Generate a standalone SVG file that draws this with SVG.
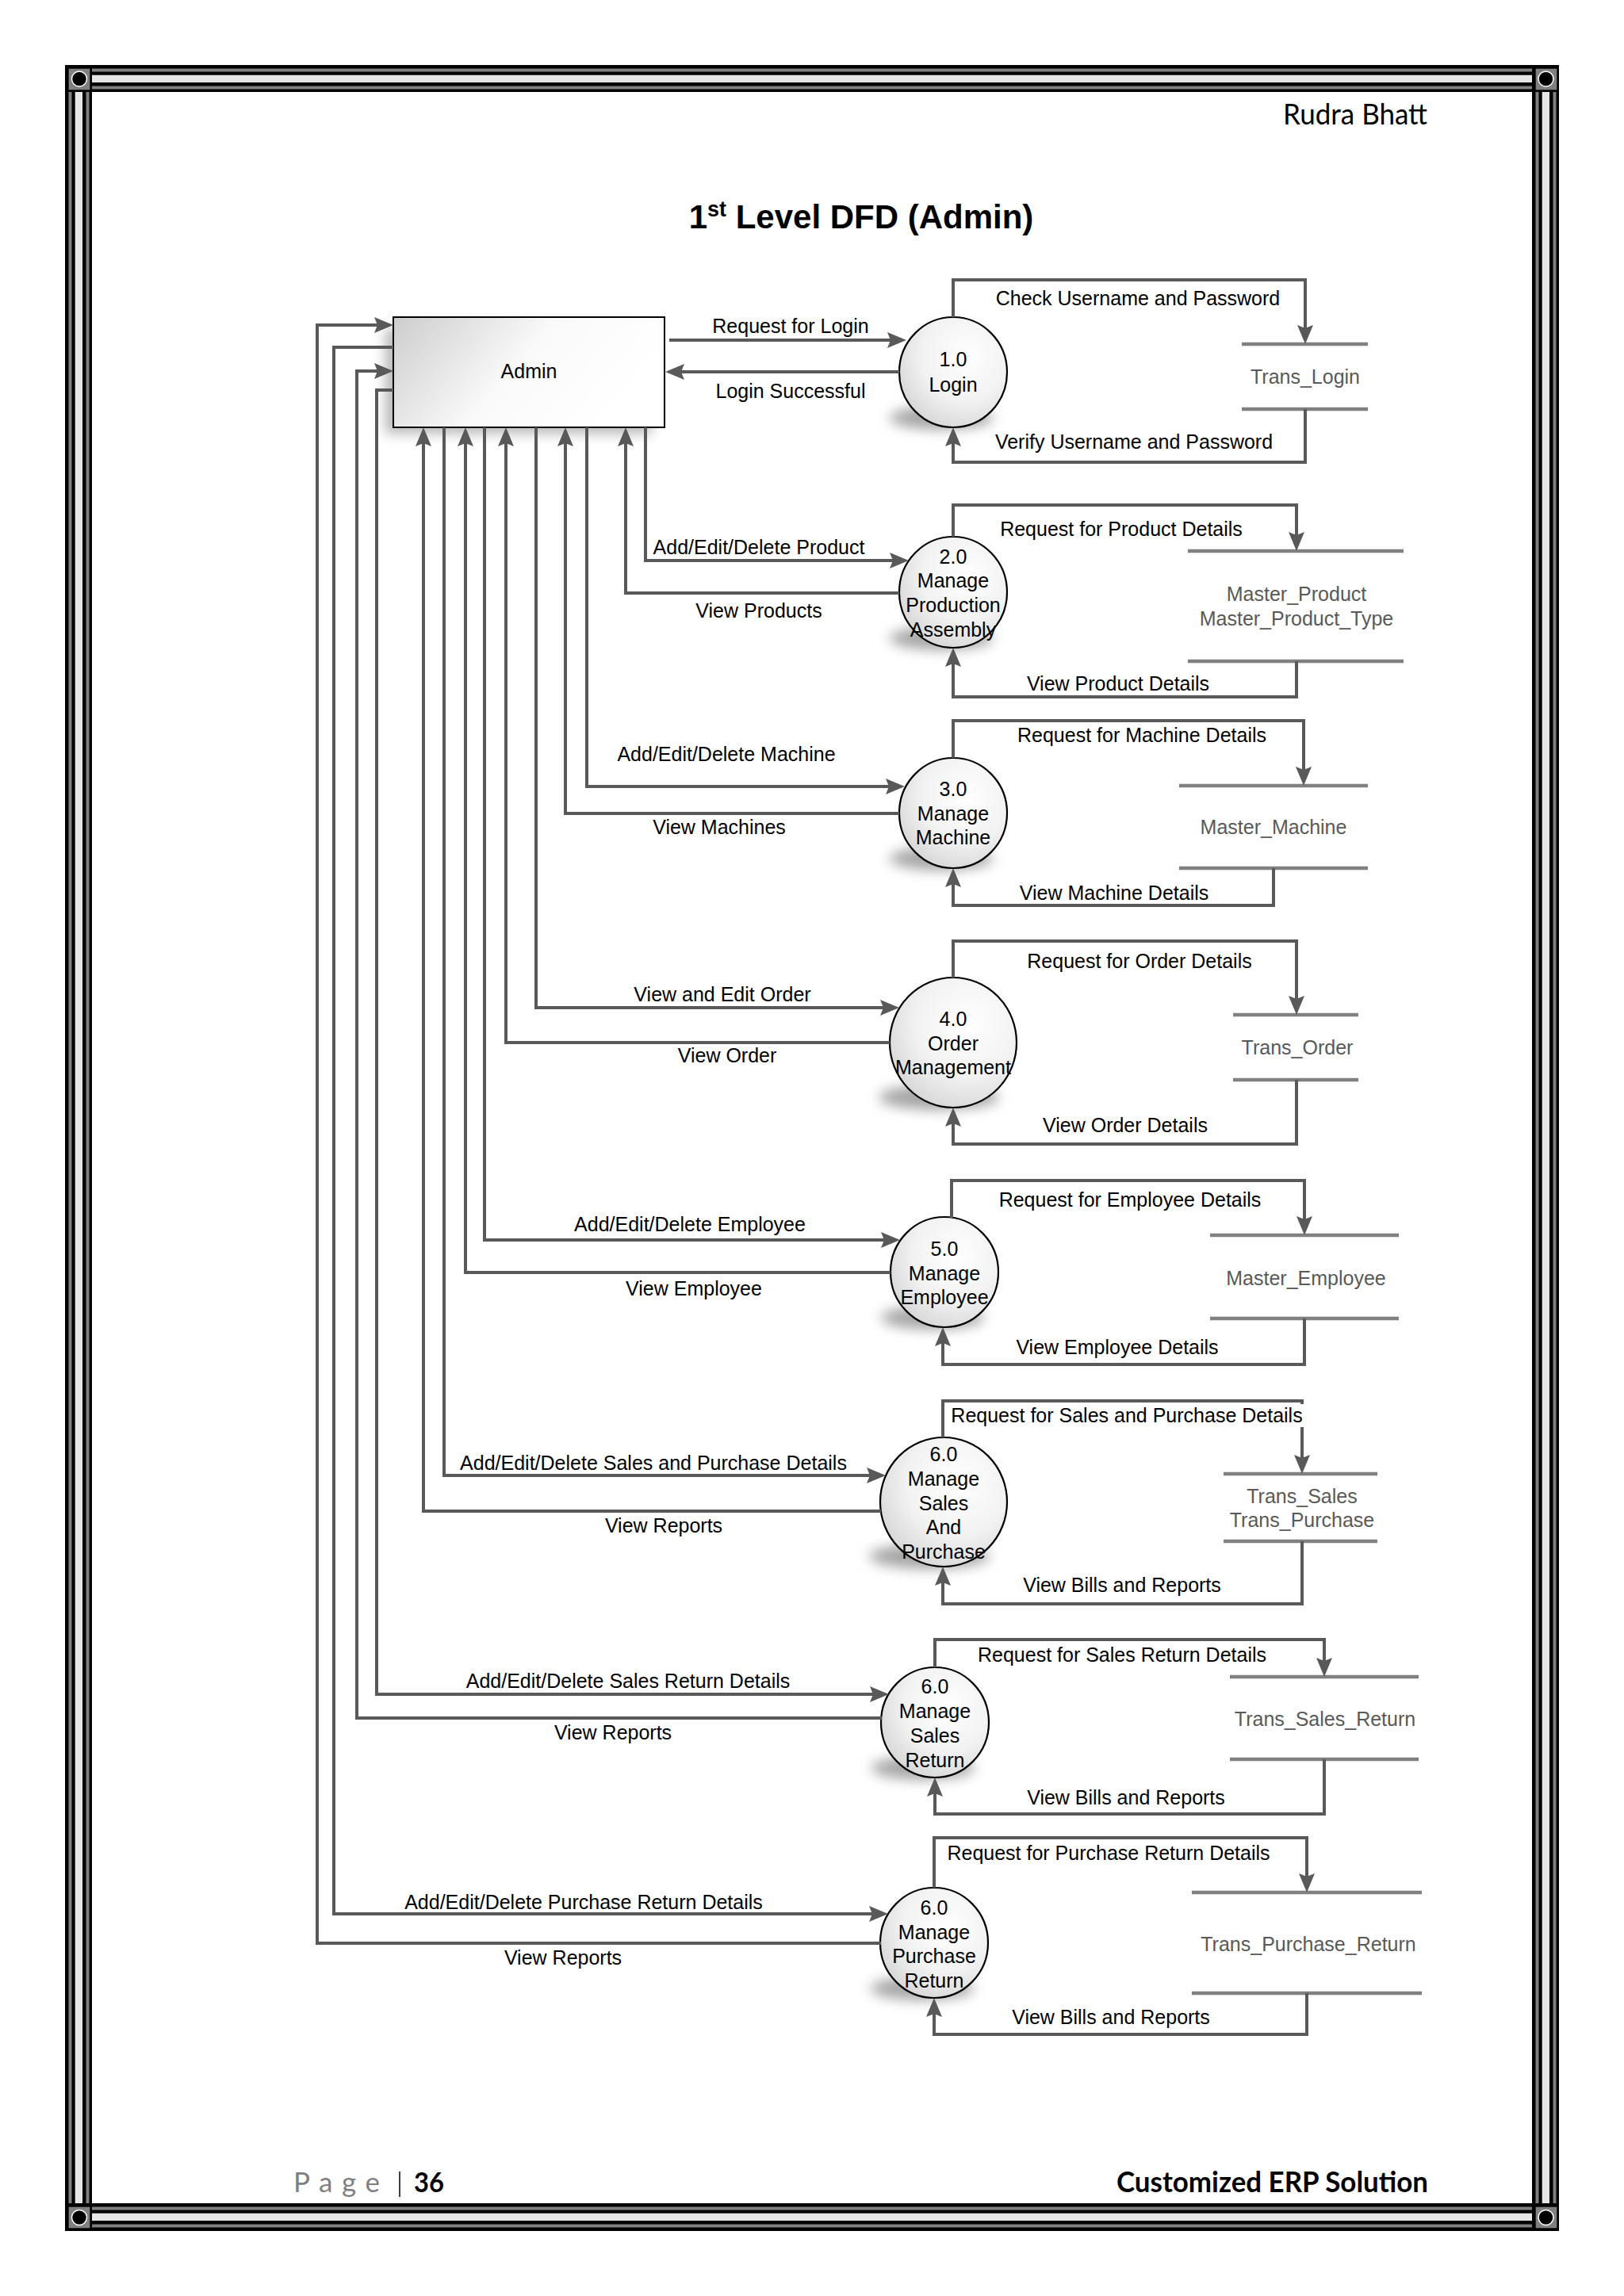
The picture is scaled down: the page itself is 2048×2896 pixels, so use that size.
<svg xmlns="http://www.w3.org/2000/svg" width="2048" height="2896" viewBox="0 0 2048 2896">
<style>
.flow{fill:none;stroke:#595959;stroke-width:4;stroke-linejoin:miter}
.arr{marker-end:url(#ah)}
.store{stroke:#808080;stroke-width:4.5}
.lbl{font-family:"Liberation Sans",Arial,sans-serif;font-size:25px;fill:#000;text-anchor:middle}
.slbl{font-family:"Liberation Sans",Arial,sans-serif;font-size:25px;fill:#595959;text-anchor:middle}
.proc{fill:url(#pg);stroke:#000;stroke-width:2.2}
.shadow{fill:#a6a6a6;filter:url(#blur)}
.cal{font-family:Lato,Carlito,"Open Sans",sans-serif}
</style>
<defs>
<marker id="ah" markerUnits="userSpaceOnUse" markerWidth="26" markerHeight="22" refX="17" refY="10" orient="auto">
<path d="M0,0 L24,10 L0,20 L4,10 z" fill="#595959"/>
</marker>
<radialGradient id="pg" cx="0.62" cy="0.35" r="0.75">
<stop offset="0" stop-color="#ffffff"/>
<stop offset="0.55" stop-color="#f2f2f2"/>
<stop offset="1" stop-color="#d2d2d2"/>
</radialGradient>
<linearGradient id="ag" x1="0" y1="0" x2="1" y2="0.35">
<stop offset="0" stop-color="#cdcdcd"/>
<stop offset="0.55" stop-color="#fafafa"/>
<stop offset="1" stop-color="#ffffff"/>
</linearGradient>
<filter id="blur" x="-30%" y="-100%" width="160%" height="300%"><feGaussianBlur stdDeviation="8"/></filter>
</defs>
<rect width="2048" height="2896" fill="#fff"/>

<g id="frame">
<rect x="82" y="82" width="1884" height="34" fill="#000"/>
<rect x="82" y="2779" width="1884" height="35" fill="#000"/>
<rect x="82" y="82" width="34" height="2732" fill="#000"/>
<rect x="1932" y="82" width="34" height="2732" fill="#000"/>
<g fill="#808080">
<rect x="116" y="86.5" width="1816" height="4"/><rect x="116" y="108.5" width="1816" height="4"/>
<rect x="116" y="2783.5" width="1816" height="4"/><rect x="116" y="2805.5" width="1816" height="4"/>
<rect x="86.5" y="116" width="4" height="2663"/><rect x="108.5" y="116" width="4" height="2663"/>
<rect x="1936.5" y="116" width="4" height="2663"/><rect x="1958.5" y="116" width="4" height="2663"/>
</g>
<g fill="#e6e6e6">
<rect x="116" y="94.7" width="1816" height="9.3"/>
<rect x="116" y="2791.7" width="1816" height="9.3"/>
<rect x="94.7" y="116" width="9.3" height="2663"/>
<rect x="1944.7" y="116" width="9.3" height="2663"/>
</g>
<g fill="#808080">
<rect x="86.7" y="86.7" width="26.6" height="26.6"/>
<rect x="1936.7" y="86.7" width="26.6" height="26.6"/>
<rect x="86.7" y="2783.7" width="26.6" height="26.6"/>
<rect x="1936.7" y="2783.7" width="26.6" height="26.6"/>
</g>
<g fill="#000" stroke="#fff" stroke-width="1.5">
<circle cx="100" cy="99.5" r="9.5"/>
<circle cx="1949.5" cy="99.5" r="9.5"/>
<circle cx="100" cy="2797" r="9.5"/>
<circle cx="1949.5" cy="2797" r="9.5"/>
</g>
</g>

<g id="header">
<text class="cal" x="1800" y="157" font-size="37" text-anchor="end" textLength="182" lengthAdjust="spacingAndGlyphs">Rudra Bhatt</text>
<text x="1086" y="288" font-family="'Liberation Sans',Arial,sans-serif" font-size="42" font-weight="bold" text-anchor="middle">1<tspan font-size="27" dy="-15">st</tspan><tspan dy="15"> Level DFD (Admin)</tspan></text>
</g>

<g id="footer">
<text class="cal" x="370" y="2765" font-size="35" fill="#7f7f7f" textLength="109" lengthAdjust="spacing">Page</text>
<line x1="504" y1="2739" x2="504" y2="2771" stroke="#000" stroke-width="1.5"/>
<text class="cal" x="522" y="2765" font-size="35" font-weight="bold" textLength="38" lengthAdjust="spacingAndGlyphs">36</text>
<text class="cal" x="1408" y="2765" font-size="36" font-weight="bold" textLength="393" lengthAdjust="spacingAndGlyphs">Customized ERP Solution</text>
</g>

<g id="admin">
<rect x="486" y="414" width="336" height="133" class="shadow" opacity="0.8"/>
<rect x="496" y="400" width="342" height="139" fill="url(#ag)" stroke="#000" stroke-width="2"/>
<text class="lbl" x="667" y="477">Admin</text>
</g>

<g id="p1">
<ellipse cx="1187" cy="527" rx="65" ry="15" class="shadow"/>
<ellipse cx="1202" cy="469.5" rx="68" ry="69.5" class="proc"/>
<text class="lbl" x="1202" y="462">1.0</text>
<text class="lbl" x="1202" y="494">Login</text>
</g>
<g id="p2">
<ellipse cx="1187" cy="805" rx="65" ry="15" class="shadow"/>
<ellipse cx="1202" cy="747" rx="68" ry="70" class="proc"/>
<text class="lbl" x="1202" y="711">2.0</text>
<text class="lbl" x="1202" y="741">Manage</text>
<text class="lbl" x="1202" y="772">Production</text>
<text class="lbl" x="1202" y="803">Assembly</text>
</g>
<g id="p3">
<ellipse cx="1187" cy="1083" rx="65" ry="15" class="shadow"/>
<ellipse cx="1202" cy="1025.5" rx="68" ry="69.5" class="proc"/>
<text class="lbl" x="1202" y="1004">3.0</text>
<text class="lbl" x="1202" y="1035">Manage</text>
<text class="lbl" x="1202" y="1065">Machine</text>
</g>
<g id="p4">
<ellipse cx="1184" cy="1384" rx="76" ry="16" class="shadow"/>
<ellipse cx="1202" cy="1315" rx="80" ry="82" class="proc"/>
<text class="lbl" x="1202" y="1294">4.0</text>
<text class="lbl" x="1202" y="1325">Order</text>
<text class="lbl" x="1202" y="1355">Management</text>
</g>
<g id="p5">
<ellipse cx="1176" cy="1662" rx="65" ry="15" class="shadow"/>
<ellipse cx="1191" cy="1604.5" rx="68" ry="69.5" class="proc"/>
<text class="lbl" x="1191" y="1584">5.0</text>
<text class="lbl" x="1191" y="1615">Manage</text>
<text class="lbl" x="1191" y="1645">Employee</text>
</g>
<g id="p6">
<ellipse cx="1172" cy="1963" rx="76" ry="16" class="shadow"/>
<ellipse cx="1190" cy="1894.5" rx="80" ry="81.5" class="proc"/>
<text class="lbl" x="1190" y="1843">6.0</text>
<text class="lbl" x="1190" y="1874">Manage</text>
<text class="lbl" x="1190" y="1905">Sales</text>
<text class="lbl" x="1190" y="1935">And</text>
<text class="lbl" x="1190" y="1966">Purchase</text>
</g>
<g id="p7">
<ellipse cx="1164" cy="2230" rx="65" ry="15" class="shadow"/>
<ellipse cx="1179" cy="2172.5" rx="68" ry="69.5" class="proc"/>
<text class="lbl" x="1179" y="2136">6.0</text>
<text class="lbl" x="1179" y="2167">Manage</text>
<text class="lbl" x="1179" y="2198">Sales</text>
<text class="lbl" x="1179" y="2229">Return</text>
</g>
<g id="p8">
<ellipse cx="1163" cy="2508" rx="65" ry="15" class="shadow"/>
<ellipse cx="1178" cy="2450.5" rx="68" ry="69.5" class="proc"/>
<text class="lbl" x="1178" y="2415">6.0</text>
<text class="lbl" x="1178" y="2446">Manage</text>
<text class="lbl" x="1178" y="2476">Purchase</text>
<text class="lbl" x="1178" y="2507">Return</text>
</g>

<g id="d1"><line class="store" x1="1566" y1="434" x2="1725" y2="434"/><line class="store" x1="1566" y1="516" x2="1725" y2="516"/><text class="slbl" x="1646" y="484">Trans_Login</text></g>
<g id="d2"><line class="store" x1="1498" y1="695" x2="1770" y2="695"/><line class="store" x1="1498" y1="834" x2="1770" y2="834"/><text class="slbl" x="1635" y="758">Master_Product</text><text class="slbl" x="1635" y="789">Master_Product_Type</text></g>
<g id="d3"><line class="store" x1="1487" y1="991" x2="1725" y2="991"/><line class="store" x1="1487" y1="1095" x2="1725" y2="1095"/><text class="slbl" x="1606" y="1052">Master_Machine</text></g>
<g id="d4"><line class="store" x1="1555" y1="1280" x2="1713" y2="1280"/><line class="store" x1="1555" y1="1362" x2="1713" y2="1362"/><text class="slbl" x="1636" y="1330">Trans_Order</text></g>
<g id="d5"><line class="store" x1="1526" y1="1558" x2="1764" y2="1558"/><line class="store" x1="1526" y1="1663" x2="1764" y2="1663"/><text class="slbl" x="1647" y="1621">Master_Employee</text></g>
<g id="d6"><line class="store" x1="1543" y1="1859" x2="1737" y2="1859"/><line class="store" x1="1543" y1="1944" x2="1737" y2="1944"/><text class="slbl" x="1642" y="1896">Trans_Sales</text><text class="slbl" x="1642" y="1926">Trans_Purchase</text></g>
<g id="d7"><line class="store" x1="1551" y1="2115" x2="1789" y2="2115"/><line class="store" x1="1551" y1="2219" x2="1789" y2="2219"/><text class="slbl" x="1671" y="2177">Trans_Sales_Return</text></g>
<g id="d8"><line class="store" x1="1503" y1="2387" x2="1793" y2="2387"/><line class="store" x1="1503" y1="2514" x2="1793" y2="2514"/><text class="slbl" x="1650" y="2461">Trans_Purchase_Return</text></g>

<g id="connectors">
<path class="flow arr" d="M844,429 H1136"/>
<path class="flow arr" d="M1134,469 H846"/>
<path class="flow arr" d="M1202,400 V353 H1646 V427"/>
<path class="flow arr" d="M1646,516 V583 H1202 V546"/>

<path class="flow arr" d="M814,539 V707 H1139"/>
<path class="flow arr" d="M1134,748 H789 V546"/>
<path class="flow arr" d="M1202,677 V637 H1635 V688"/>
<path class="flow arr" d="M1635,834 V879 H1202 V824"/>

<path class="flow arr" d="M740,539 V992 H1134"/>
<path class="flow arr" d="M1134,1026 H713 V546"/>
<path class="flow arr" d="M1202,956 V909 H1644 V984"/>
<path class="flow arr" d="M1606,1095 V1142 H1202 V1102"/>

<path class="flow arr" d="M676,539 V1271 H1127"/>
<path class="flow arr" d="M1122,1315 H638 V546"/>
<path class="flow arr" d="M1202,1233 V1187 H1635 V1273"/>
<path class="flow arr" d="M1635,1362 V1443 H1202 V1404"/>

<path class="flow arr" d="M611,539 V1564 H1128"/>
<path class="flow arr" d="M1123,1605 H587 V546"/>
<path class="flow arr" d="M1200,1536 V1489 H1645 V1551"/>
<path class="flow arr" d="M1645,1663 V1721 H1189 V1681"/>

<path class="flow arr" d="M560,539 V1861 H1110"/>
<path class="flow arr" d="M1111,1906 H534 V546"/>
<path class="flow arr" d="M1189,1813 V1767 H1642 V1852"/>
<path class="flow arr" d="M1642,1944 V2023 H1189 V1983"/>

<path class="flow arr" d="M496,492 H475 V2137 H1114"/>
<path class="flow arr" d="M1112,2167 H450 V468 H489"/>
<path class="flow arr" d="M1179,2103 V2068 H1670 V2108"/>
<path class="flow arr" d="M1670,2219 V2288 H1179 V2249"/>

<path class="flow arr" d="M496,438 H421 V2414 H1113"/>
<path class="flow arr" d="M1111,2451 H400 V410 H489"/>
<path class="flow arr" d="M1178,2381 V2318 H1648 V2380"/>
<path class="flow arr" d="M1648,2514 V2566 H1178 V2527"/>
</g>

<g id="labels">
<text class="lbl" x="997" y="420">Request for Login</text>
<text class="lbl" x="997" y="502">Login Successful</text>
<text class="lbl" x="1435" y="385">Check Username and Password</text>
<text class="lbl" x="1430" y="566">Verify Username and Password</text>

<text class="lbl" x="957" y="699">Add/Edit/Delete Product</text>
<text class="lbl" x="957" y="779">View Products</text>
<text class="lbl" x="1414" y="676">Request for Product Details</text>
<text class="lbl" x="1410" y="871">View Product Details</text>

<text class="lbl" x="916" y="960">Add/Edit/Delete Machine</text>
<text class="lbl" x="907" y="1052">View Machines</text>
<text class="lbl" x="1440" y="936">Request for Machine Details</text>
<text class="lbl" x="1405" y="1135">View Machine Details</text>

<text class="lbl" x="911" y="1263">View and Edit Order</text>
<text class="lbl" x="917" y="1340">View Order</text>
<text class="lbl" x="1437" y="1221">Request for Order Details</text>
<text class="lbl" x="1419" y="1428">View Order Details</text>

<text class="lbl" x="870" y="1553">Add/Edit/Delete Employee</text>
<text class="lbl" x="875" y="1634">View Employee</text>
<text class="lbl" x="1425" y="1522">Request for Employee Details</text>
<text class="lbl" x="1409" y="1708">View Employee Details</text>

<text class="lbl" x="824" y="1854">Add/Edit/Delete Sales and Purchase Details</text>
<text class="lbl" x="837" y="1933">View Reports</text>
<rect x="1196" y="1771" width="452" height="29" fill="#fff"/>
<text class="lbl" x="1421" y="1794">Request for Sales and Purchase Details</text>
<text class="lbl" x="1415" y="2008">View Bills and Reports</text>

<text class="lbl" x="792" y="2129">Add/Edit/Delete Sales Return Details</text>
<text class="lbl" x="773" y="2194">View Reports</text>
<text class="lbl" x="1415" y="2096">Request for Sales Return Details</text>
<text class="lbl" x="1420" y="2276">View Bills and Reports</text>

<text class="lbl" x="736" y="2408">Add/Edit/Delete Purchase Return Details</text>
<text class="lbl" x="710" y="2478">View Reports</text>
<text class="lbl" x="1398" y="2346">Request for Purchase Return Details</text>
<text class="lbl" x="1401" y="2553">View Bills and Reports</text>
</g>
</svg>
